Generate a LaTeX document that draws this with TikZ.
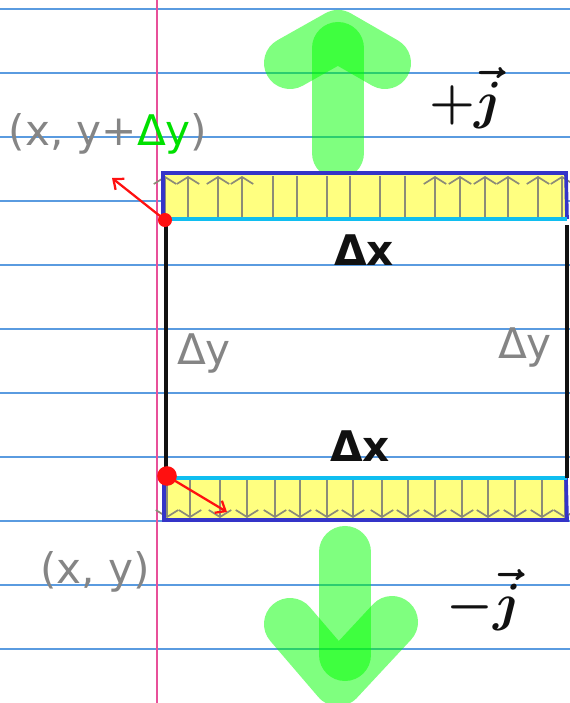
\documentclass[tikz,border=0pt]{standalone}
\usepackage{fontspec}
\usepackage{bm}
\setmainfont{DejaVu Sans}
\usetikzlibrary{arrows.meta}
\definecolor{rulingblue}{HTML}{5A9BE0}
\definecolor{marginpink}{HTML}{E8509A}
\definecolor{stripyellow}{HTML}{FFFF80}
\definecolor{stripblue}{HTML}{3434C8}
\definecolor{edgecyan}{HTML}{10BEF0}
\definecolor{fluxgreen}{HTML}{00FF00}
\definecolor{deltagreen}{HTML}{00E000}
\definecolor{labelgray}{HTML}{858585}
\definecolor{tickgray}{HTML}{8C8C78}
\definecolor{vecred}{HTML}{FF1010}
\definecolor{textdark}{HTML}{111111}

\tikzset{
  fluxarrow/.style={fluxgreen, opacity=0.5, line width=37pt, line cap=round, line join=round},
  fluxtick/.style={tickgray, line width=1.2pt},
  tickhead/.style={fluxtick, -{Straight Barb[length=5pt,width=16pt]}},
  cornerdot/.style={circle, fill=vecred, inner sep=0pt},
  redvec/.style={vecred, line width=1.6pt, -{Straight Barb[length=6pt,width=10pt]}},
  graylabel/.style={labelgray, font=\fontsize{30}{34}\selectfont},
  darklabel/.style={textdark, font=\fontsize{30}{34}\selectfont\bfseries},
  veclabel/.style={textdark, font=\fontsize{24}{28}\selectfont, scale=1.5},
}

\begin{document}
\begin{tikzpicture}[x=0.025cm, y=-0.025cm, >=Stealth]

    \useasboundingbox (0,0) rectangle (570,703);

    % Ruled paper
    \foreach \y in {9,73,...,649}
        \draw[rulingblue, line width=1pt] (0,\y) -- (570,\y);
    \draw[marginpink, line width=1.2pt] (157,0) -- (157,703);

    % Green flux arrows
    \draw[fluxarrow] (338,153) -- (338,48);
    \draw[fluxarrow] (290,63) -- (338,36) -- (385,63);
    \draw[fluxarrow] (345,552) -- (345,655);
    \draw[fluxarrow] (290,624) -- (338,680) -- (392,622);

    % Area Filling
    \fill[stripyellow] (163,173) rectangle (567,219);
    \fill[stripyellow] (163,478) rectangle (567,522);

    % Ticks in the strips
    \foreach \x in {273,297,327,350,380,405}
        \draw[fluxtick] (\x,218) -- (\x,176);
    \foreach \x in {165,188,218,242,435,460,485,508,538,562}
        \draw[tickhead] (\x,218) -- (\x,176);
    \foreach \x in {167,190,220,247,275,300,327,353,382,408,435,462,488,515,542,565}
        \draw[tickhead] (\x,480) -- (\x,518);

    % Strip outlines
    \draw[stripblue, line width=2.6pt] (163,219) -- (163,173) -- (566,173) -- (567,219);
    \draw[edgecyan, line width=2.8pt] (163,219) -- (567,219);
    \draw[stripblue, line width=2.6pt] (164,480) -- (164,520) -- (567,520) -- (566,478);
    \draw[edgecyan, line width=2.8pt] (167,478) -- (567,478);

    % Box sides
    \draw[textdark, line width=2.5pt] (166,221) -- (166,478);
    \draw[textdark, line width=2.5pt] (567,225) -- (567,478);

    % Corner points and their vectors
    \node[cornerdot, minimum size=10pt] (topcorner) at (165,220) {};
    \node[cornerdot, minimum size=14pt] (bottomcorner) at (167,476) {};
    \coordinate (topnormal) at (112,178);
    \coordinate (bottomnormal) at (227,512);
    \draw[redvec] (topcorner.center) -- (topnormal);
    \draw[redvec] (bottomcorner.center) -- (bottomnormal);

    % Labels
    \node[graylabel] (topcornerlabel) at (108,134)
        {(x, y+\textcolor{deltagreen}{Δy})};
    \node[graylabel] (bottomcornerlabel) at (95,572) {(x, y)};
    \node[darklabel] (topdx) at (364,250) {Δx};
    \node[darklabel] (bottomdx) at (360,446) {Δx};
    \node[graylabel] (leftdy) at (204,354) {Δy};
    \node[graylabel] (rightdy) at (525,348) {Δy};
    \node[veclabel] (plusj) at (466,98) {$\bm{+\vec{j}}$};
    \node[veclabel] (minusj) at (484,600) {$\bm{-\vec{j}}$};

\end{tikzpicture}
\end{document}
